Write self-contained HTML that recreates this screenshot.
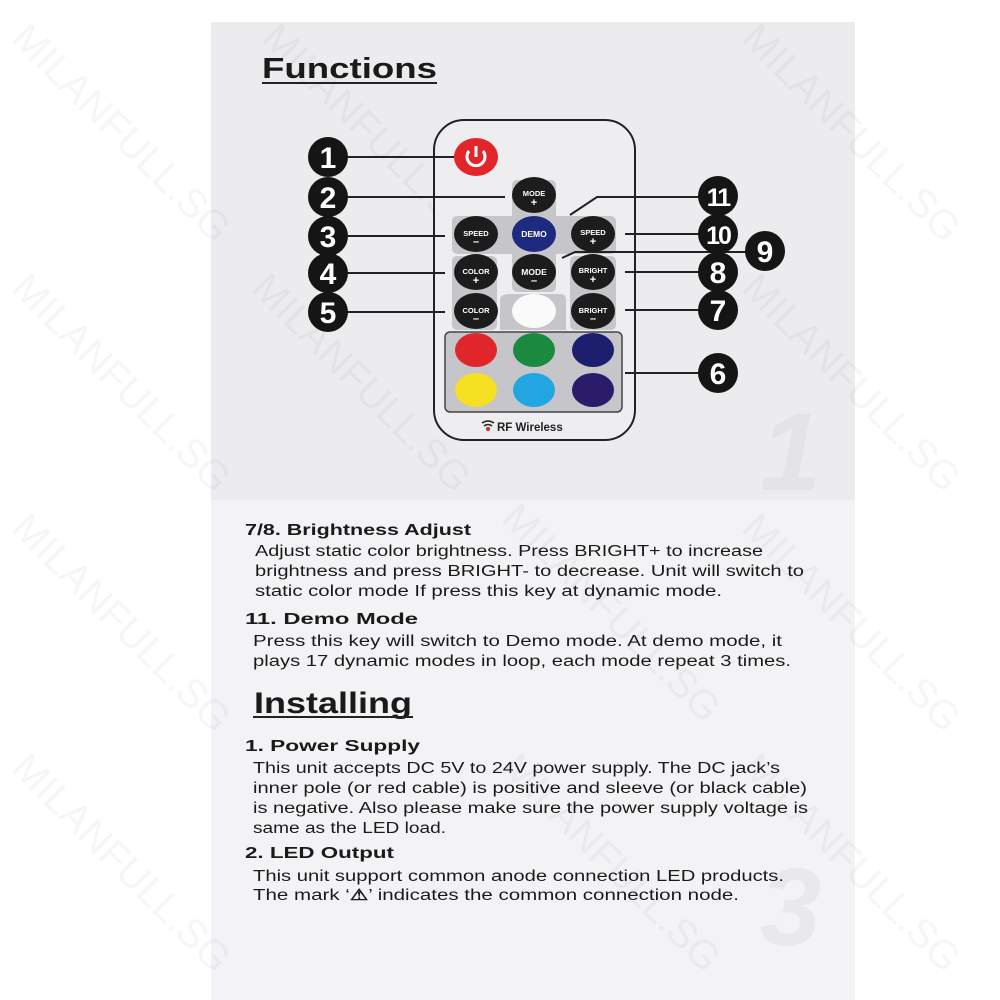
<!DOCTYPE html>
<html><head><meta charset="utf-8"><style>
html,body{margin:0;padding:0;background:#fff;}
svg{display:block}
text{font-family:"Liberation Sans",sans-serif;}
</style></head><body>
<svg width="1000" height="1000" viewBox="0 0 1000 1000" xmlns="http://www.w3.org/2000/svg">
<rect x="0" y="0" width="1000" height="1000" fill="#fff"/>
<rect x="211" y="22" width="644" height="478" fill="#ececee"/>
<rect x="211" y="500" width="644" height="500" fill="#f3f3f5"/>
<text x="760" y="490" font-size="110" font-weight="bold" font-style="italic" fill="#e4e4e6">1</text>
<text x="760" y="945" font-size="110" font-weight="bold" font-style="italic" fill="#e9e9eb">3</text>
<g fill="#000" fill-opacity="0.035" font-size="40" font-family="Liberation Sans">
<text transform="translate(10,40) rotate(45)">MILANFULL.SG</text>
<text transform="translate(260,40) rotate(45)">MILANFULL.SG</text>
<text transform="translate(740,40) rotate(45)">MILANFULL.SG</text>
<text transform="translate(10,290) rotate(45)">MILANFULL.SG</text>
<text transform="translate(250,290) rotate(45)">MILANFULL.SG</text>
<text transform="translate(740,290) rotate(45)">MILANFULL.SG</text>
<text transform="translate(10,530) rotate(45)">MILANFULL.SG</text>
<text transform="translate(500,520) rotate(45)">MILANFULL.SG</text>
<text transform="translate(740,530) rotate(45)">MILANFULL.SG</text>
<text transform="translate(10,770) rotate(45)">MILANFULL.SG</text>
<text transform="translate(500,770) rotate(45)">MILANFULL.SG</text>
<text transform="translate(740,770) rotate(45)">MILANFULL.SG</text>
</g>
<text x="262" y="78" font-size="29" font-weight="bold" fill="#1a1a1a" textLength="175" lengthAdjust="spacingAndGlyphs">Functions</text>
<rect x="262" y="82" width="175" height="2" fill="#222"/>
<rect x="434" y="120" width="201" height="320" rx="30" fill="#eeeef0" stroke="#222" stroke-width="2"/>
<g fill="#c6c6ca">
<rect x="512" y="180" width="44" height="112" rx="5"/>
<rect x="452" y="216" width="164" height="38" rx="5"/>
<rect x="452" y="256" width="45" height="74" rx="5"/>
<rect x="570" y="256" width="46" height="74" rx="5"/>
<path d="M500 330 L500 300 Q500 294 510 294 L560 294 Q566 294 566 300 L566 330 Z"/>
</g>
<rect x="445" y="332" width="177" height="80" rx="5" fill="#c6c6ca" stroke="#444" stroke-width="1.5"/>
<g stroke="#222" stroke-width="2" fill="none">
<line x1="335" y1="157" x2="455" y2="157"/>
<line x1="335" y1="197" x2="505" y2="197"/>
<line x1="335" y1="236" x2="445" y2="236"/>
<line x1="335" y1="273" x2="445" y2="273"/>
<line x1="335" y1="312" x2="445" y2="312"/>
<line x1="625" y1="373" x2="712" y2="373"/>
<line x1="625" y1="310" x2="712" y2="310"/>
<line x1="625" y1="272" x2="712" y2="272"/>
<line x1="625" y1="234" x2="712" y2="234"/>
<polyline points="570,215 597,197 712,197"/>
<polyline points="562,258 575,252 750,252"/>
</g>
<g fill="#151515">
<circle cx="328" cy="157" r="20"/><circle cx="328" cy="197" r="20"/><circle cx="328" cy="236" r="20"/>
<circle cx="328" cy="273" r="20"/><circle cx="328" cy="312" r="20"/>
<circle cx="718" cy="196" r="20"/><circle cx="718" cy="234" r="20"/><circle cx="765" cy="251" r="20"/>
<circle cx="718" cy="272" r="20"/><circle cx="718" cy="310" r="20"/><circle cx="718" cy="373" r="20"/>
</g>
<g fill="#fff" font-size="30" font-weight="bold" text-anchor="middle">
<text x="328" y="168">1</text><text x="328" y="208">2</text><text x="328" y="247">3</text>
<text x="328" y="284">4</text><text x="328" y="323">5</text>
<text x="718" y="206" font-size="25" letter-spacing="-2">11</text><text x="718" y="244" font-size="25" letter-spacing="-2">10</text>
<text x="765" y="262">9</text><text x="718" y="283">8</text><text x="718" y="321">7</text><text x="718" y="384">6</text>
</g>
<ellipse cx="476" cy="157" rx="22" ry="19" fill="#e2252b"/>
<path d="M469 151 A9 9 0 1 0 483 151" stroke="#fff" stroke-width="3" fill="none"/>
<line x1="476" y1="146" x2="476" y2="157" stroke="#fff" stroke-width="3"/>
<g fill="#1c1c1c">
<ellipse cx="534" cy="195" rx="22" ry="18"/>
<ellipse cx="476" cy="234" rx="22" ry="18"/>
<ellipse cx="593" cy="234" rx="22" ry="18"/>
<ellipse cx="476" cy="272" rx="22" ry="18"/>
<ellipse cx="534" cy="272" rx="22" ry="18"/>
<ellipse cx="593" cy="272" rx="22" ry="18"/>
<ellipse cx="476" cy="311" rx="22" ry="18"/>
<ellipse cx="593" cy="311" rx="22" ry="18"/>
</g>
<ellipse cx="534" cy="234" rx="22" ry="18" fill="#1e2a80"/>
<ellipse cx="534" cy="311" rx="22" ry="17" fill="#fafafa"/>
<g fill="#fff" font-size="7.5" font-weight="bold" text-anchor="middle">
<text x="534" y="196">MODE</text><text x="534" y="206" font-size="11">+</text>
<text x="476" y="236">SPEED</text><text x="476" y="245" font-size="11">–</text>
<text x="534" y="237" font-size="8.5">DEMO</text>
<text x="593" y="235">SPEED</text><text x="593" y="245" font-size="11">+</text>
<text x="476" y="274">COLOR</text><text x="476" y="284" font-size="11">+</text>
<text x="534" y="275" font-size="8.5">MODE</text><text x="534" y="284" font-size="11">–</text>
<text x="593" y="273">BRIGHT</text><text x="593" y="283" font-size="11">+</text>
<text x="476" y="313">COLOR</text><text x="476" y="322" font-size="11">–</text>
<text x="593" y="313">BRIGHT</text><text x="593" y="322" font-size="11">–</text>
</g>
<ellipse cx="476" cy="350" rx="21" ry="17" fill="#e0262a"/>
<ellipse cx="534" cy="350" rx="21" ry="17" fill="#1a8a40"/>
<ellipse cx="593" cy="350" rx="21" ry="17" fill="#1c1f6e"/>
<ellipse cx="476" cy="390" rx="21" ry="17" fill="#f6e022"/>
<ellipse cx="534" cy="390" rx="21" ry="17" fill="#22a6e2"/>
<ellipse cx="593" cy="390" rx="21" ry="17" fill="#2a1c68"/>
<path d="M482 423 Q488 419 494 423" stroke="#222" stroke-width="1.5" fill="none"/>
<path d="M484 426 Q488 423 492 426" stroke="#222" stroke-width="1.5" fill="none"/>
<circle cx="488" cy="429" r="2" fill="#d22"/>
<text x="497" y="431" font-size="11.5" font-weight="bold" fill="#222">RF Wireless</text>
<g font-size="15.5" fill="#1a1a1a" lengthAdjust="spacingAndGlyphs">
<text x="245" y="535" font-weight="bold" textLength="226" lengthAdjust="spacingAndGlyphs">7/8. Brightness Adjust</text>
<text x="255" y="556" textLength="508" lengthAdjust="spacingAndGlyphs">Adjust static color brightness. Press BRIGHT+ to increase</text>
<text x="255" y="576" textLength="549" lengthAdjust="spacingAndGlyphs">brightness and press BRIGHT- to decrease. Unit will switch to</text>
<text x="255" y="596" textLength="467" lengthAdjust="spacingAndGlyphs">static color mode If press this key at dynamic mode.</text>
<text x="245" y="624" font-weight="bold" textLength="173" lengthAdjust="spacingAndGlyphs">11. Demo Mode</text>
<text x="253" y="646" textLength="529" lengthAdjust="spacingAndGlyphs">Press this key will switch to Demo mode. At demo mode, it</text>
<text x="253" y="666" textLength="538" lengthAdjust="spacingAndGlyphs">plays 17 dynamic modes in loop, each mode repeat 3 times.</text>
<text x="254" y="713" font-size="30" font-weight="bold" textLength="158" lengthAdjust="spacingAndGlyphs">Installing</text>
<rect x="253" y="716" width="160" height="2" fill="#222"/>
<text x="245" y="751" font-weight="bold" textLength="175" lengthAdjust="spacingAndGlyphs">1. Power Supply</text>
<text x="253" y="773" textLength="527" lengthAdjust="spacingAndGlyphs">This unit accepts DC 5V to 24V power supply. The DC jack’s</text>
<text x="253" y="793" textLength="554" lengthAdjust="spacingAndGlyphs">inner pole (or red cable) is positive and sleeve (or black cable)</text>
<text x="253" y="813" textLength="555" lengthAdjust="spacingAndGlyphs">is negative. Also please make sure the power supply voltage is</text>
<text x="253" y="833" textLength="193" lengthAdjust="spacingAndGlyphs">same as the LED load.</text>
<text x="245" y="858" font-weight="bold" textLength="149" lengthAdjust="spacingAndGlyphs">2. LED Output</text>
<text x="253" y="881" textLength="531" lengthAdjust="spacingAndGlyphs">This unit support common anode connection LED products.</text>
<text x="253" y="900" textLength="486" lengthAdjust="spacingAndGlyphs">The mark ‘<tspan font-weight="bold">⚠</tspan>’ indicates the common connection node.</text>
</g>
</svg>
</body></html>
